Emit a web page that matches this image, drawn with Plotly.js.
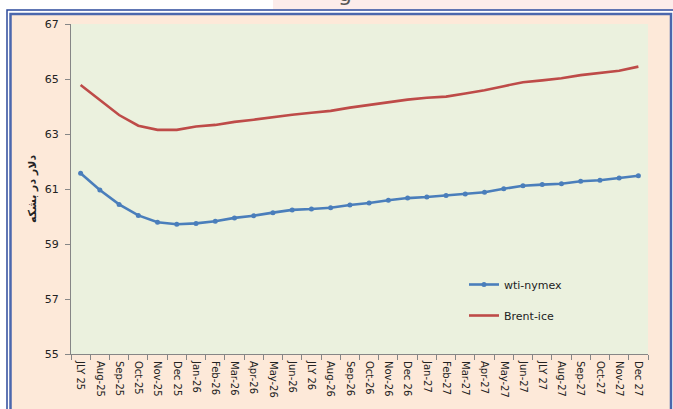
<!DOCTYPE html>
<html>
<head>
<meta charset="utf-8">
<script src="https://cdn.plot.ly/plotly-3.0.1.min.js"></script>
<style>
html,body{margin:0;padding:0;background:#ffffff;}
#chart{width:673px;height:409px;}
</style>
</head>
<body>
<div id="chart"></div>
<script>
var months = ['JLY 25','Aug-25','Sep-25','Oct-25','Nov-25','Dec 25','Jan-26','Feb-26','Mar-26','Apr-26','May-26','Jun-26','JLY 26','Aug-26','Sep-26','Oct-26','Nov-26','Dec 26','Jan-27','Feb-27','Mar-27','Apr-27','May-27','Jun-27','JLY 27','Aug-27','Sep-27','Oct-27','Nov-27','Dec 27'];
var wtiNymex = [61.57,60.96,60.44,60.04,59.79,59.72,59.75,59.83,59.95,60.03,60.14,60.24,60.27,60.32,60.42,60.49,60.59,60.67,60.71,60.76,60.82,60.88,61.01,61.12,61.16,61.19,61.28,61.32,61.40,61.48];
var brentIce = [64.78,64.25,63.69,63.30,63.15,63.15,63.27,63.33,63.44,63.52,63.62,63.70,63.77,63.84,63.96,64.06,64.14,64.25,64.32,64.36,64.47,64.59,64.74,64.88,64.95,65.03,65.14,65.22,65.30,65.45];
var yTickVals = [55,57,59,61,63,65,67];
var yTitle = 'دلار در بشکه';
var seriesNames = ['wti-nymex','Brent-ice'];

// layout geometry (pixels)
var W = 673, H = 409, L = 71, R = 25, T = 24, B = 55;
var pw = W - L - R, ph = H - T - B;
function px(x){ return (x - L) / pw; }
function py(y){ return (H - B - y) / ph; }

var font = 'DejaVu Sans, Verdana, sans-serif';

var traces = [
  {
    x: months, y: wtiNymex, name: seriesNames[0], type: 'scatter', mode: 'lines+markers',
    line: {color: '#4a7ebb', width: 2.6}, marker: {color: '#4a7ebb', size: 5},
    legendgroup: 'a'
  },
  {
    x: months, y: brentIce, name: seriesNames[1], type: 'scatter', mode: 'lines',
    line: {color: '#be4b48', width: 2.6},
    legendgroup: 'b'
  }
];

var layout = {
  width: W, height: H,
  margin: {l: L, r: R, t: T, b: B, pad: 0},
  paper_bgcolor: '#ffffff',
  plot_bgcolor: '#ebf1de',
  font: {family: font, size: 11, color: '#222222'},
  showlegend: true,
  legend: {
    x: px(464), y: py(270), xanchor: 'left', yanchor: 'top',
    bgcolor: 'rgba(0,0,0,0)', font: {family: font, size: 11, color: '#222222'},
    traceorder: 'grouped', tracegroupgap: 12, itemwidth: 30
  },
  xaxis: {
    type: 'category', tickson: 'boundaries', ticks: 'outside', ticklen: 5,
    tickcolor: '#868686', tickwidth: 1, showline: true, linecolor: '#868686', linewidth: 1,
    showgrid: false, zeroline: false, tickangle: 90, ticklabelstandoff: 4,
    tickfont: {family: font, size: 10, color: '#222222'},
    range: [-0.5, 29.5], fixedrange: true
  },
  yaxis: {
    range: [55, 67], tickvals: yTickVals, ticks: 'outside', ticklen: 5,
    tickcolor: '#868686', tickwidth: 1, showline: true, linecolor: '#868686', linewidth: 1,
    showgrid: false, zeroline: false, ticklabelstandoff: 4,
    tickfont: {family: font, size: 11, color: '#222222'},
    title: {text: yTitle, font: {family: font, size: 11, color: '#222222', weight: 'bold'}, standoff: 5}
  },
  shapes: [
    {type: 'rect', xref: 'paper', yref: 'paper', x0: px(273), x1: px(673), y0: py(0), y1: py(9.5), fillcolor: '#fcecea', line: {width: 0}, layer: 'below'},
    {type: 'rect', xref: 'paper', yref: 'paper', x0: px(11), x1: px(670), y0: py(15), y1: py(420), fillcolor: '#fde9d9', line: {width: 0}, layer: 'below'},
    {type: 'rect', xref: 'paper', yref: 'paper', x0: 0, x1: 1, y0: 0, y1: 1, fillcolor: '#ebf1de', line: {width: 0}, layer: 'below'},
    {type: 'rect', xref: 'paper', yref: 'paper', x0: px(7), x1: px(690), y0: py(10), y1: py(430), fillcolor: 'rgba(0,0,0,0)', line: {color: '#2c4a9c', width: 1.5}, layer: 'below'},
    {type: 'rect', xref: 'paper', yref: 'paper', x0: px(10.5), x1: px(671), y0: py(14), y1: py(430), fillcolor: 'rgba(0,0,0,0)', line: {color: '#4b67ad', width: 2.5}, layer: 'below'}
  ],
  annotations: [
    {text: 'g', xref: 'paper', yref: 'paper', x: px(345), y: py(8), xanchor: 'center', yanchor: 'bottom', showarrow: false, font: {family: font, size: 22, color: '#555555'}}
  ]
};

Plotly.newPlot('chart', traces, layout, {displayModeBar: false, staticPlot: true});
</script>
</body>
</html>
